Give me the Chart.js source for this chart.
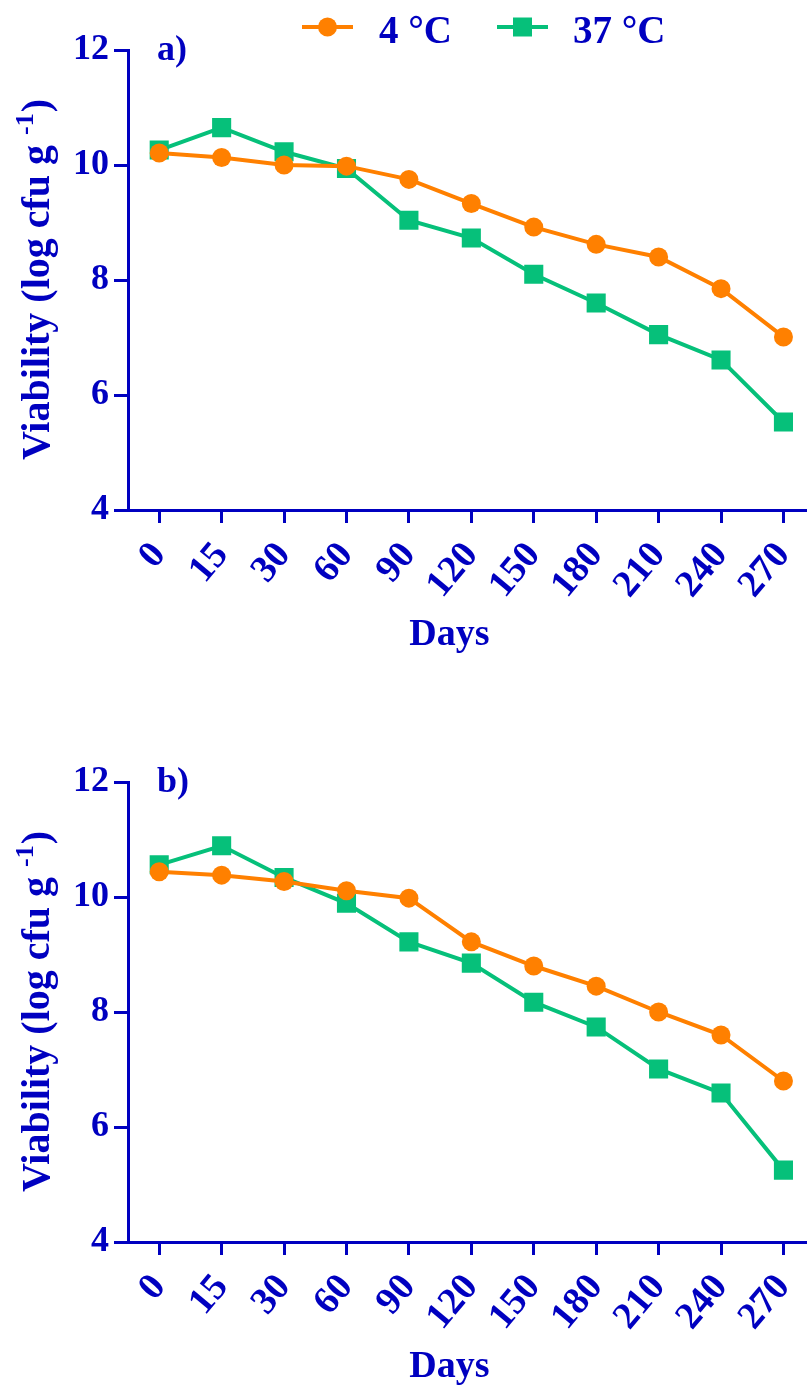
<!DOCTYPE html>
<html>
<head>
<meta charset="utf-8">
<script src="https://cdn.jsdelivr.net/npm/chart.js@4.4.0/dist/chart.umd.min.js"></script>
<style>
html, body { margin: 0; padding: 0; background: #fff; overflow: hidden; }
#wrap { position: relative; width: 807px; height: 1387px; overflow: hidden; background: #fff; }
#wrap canvas { position: absolute; left: 0; }
#chartA { top: 0; }
#chartB { top: 732px; }
</style>
</head>
<body>
<div id="wrap">
  <canvas id="chartA" width="830" height="660"></canvas>
  <canvas id="chartB" width="830" height="660"></canvas>
</div>
<script>
// storage days (categories)
var days = ['0', '15', '30', '60', '90', '120', '150', '180', '210', '240', '270'];

// panel a) viability, log cfu/g
var viabA4 = [10.21, 10.13, 10.00, 9.98, 9.75, 9.33, 8.92, 8.62, 8.40, 7.85, 7.01];
var viabA37 = [10.26, 10.65, 10.23, 9.94, 9.04, 8.73, 8.10, 7.60, 7.05, 6.61, 5.53];

// panel b)
var viabB4 = [10.44, 10.38, 10.27, 10.11, 9.98, 9.22, 8.80, 8.45, 8.00, 7.60, 6.80];
var viabB37 = [10.56, 10.89, 10.34, 9.89, 9.22, 8.85, 8.17, 7.74, 7.01, 6.59, 5.25];

var seriesLabels = ['4 \u00B0C', '37 \u00B0C'];
var xTitle = 'Days';
var yMin = 4, yMax = 12, yStep = 2;

var blue = '#0000c0';
var orange = '#ff8000';
var green = '#06c07a';
var serif = "'Liberation Serif', 'Times New Roman', serif";

function markerAt(ctx, style, color, x, y) {
  ctx.fillStyle = color;
  ctx.beginPath();
  if (style === 'rect') {
    ctx.rect(x - 9.5, y - 9.5, 19, 19);
  } else {
    ctx.arc(x, y, 9.5, 0, Math.PI * 2);
  }
  ctx.fill();
}

// axis titles drawn by hand (y one has a superscript)
var titlesPlugin = {
  id: 'axisTitles',
  afterDraw: function(chart) {
    var ctx = chart.ctx, area = chart.chartArea;
    var main = 'Viability (log cfu g ', sup = '-1', end = ')';
    ctx.save();
    ctx.translate(39, (area.top + area.bottom) / 2);
    ctx.rotate(-Math.PI / 2);
    ctx.fillStyle = blue;
    ctx.textBaseline = 'middle';
    ctx.textAlign = 'left';
    ctx.font = 'bold 40px ' + serif;
    var w1 = ctx.measureText(main).width;
    var w3 = ctx.measureText(end).width;
    ctx.font = 'bold 26px ' + serif;
    var w2 = ctx.measureText(sup).width;
    var x = -(w1 + w2 + w3) / 2;
    ctx.font = 'bold 40px ' + serif;
    ctx.fillText(main, x, 0);
    ctx.font = 'bold 26px ' + serif;
    ctx.fillText(sup, x + w1, -13);
    ctx.font = 'bold 40px ' + serif;
    ctx.fillText(end, x + w1 + w2 + 1, 0);
    ctx.restore();

    ctx.save();
    ctx.fillStyle = blue;
    ctx.font = 'bold 38px ' + serif;
    ctx.textAlign = 'center';
    ctx.textBaseline = 'alphabetic';
    ctx.fillText(xTitle, (area.left + area.right) / 2 - 22, area.bottom + 135);
    ctx.restore();
  }
};

// "a)" / "b)" panel letter
var panelPlugin = {
  id: 'panelLetter',
  afterDraw: function(chart, args, opts) {
    if (!opts || !opts.text) return;
    var ctx = chart.ctx, area = chart.chartArea;
    ctx.save();
    ctx.fillStyle = blue;
    ctx.font = 'bold 36px ' + serif;
    ctx.textBaseline = 'alphabetic';
    ctx.fillText(opts.text, area.left + 29, area.top + 10);
    ctx.restore();
  }
};

// legend: line + marker + label, like the original
var legendPlugin = {
  id: 'lineLegend',
  afterDraw: function(chart, args, opts) {
    if (!opts || !opts.show) return;
    var ctx = chart.ctx;
    var spots = [{ x: 302, tx: 379 }, { x: 497, tx: 573 }];
    chart.data.datasets.forEach(function(ds, i) {
      var s = spots[i], y = 27;
      ctx.save();
      ctx.strokeStyle = ds.borderColor;
      ctx.lineWidth = 4;
      ctx.beginPath();
      ctx.moveTo(s.x, y);
      ctx.lineTo(s.x + 51, y);
      ctx.stroke();
      markerAt(ctx, ds.pointStyle, ds.borderColor, s.x + 25.5, y);
      ctx.fillStyle = blue;
      ctx.font = 'bold 39px ' + serif;
      ctx.textBaseline = 'alphabetic';
      ctx.fillText(ds.label, s.tx, 43);
      ctx.restore();
    });
  }
};

function makePanel(canvas, letter, data4, data37, withLegend) {
  return new Chart(canvas, {
    type: 'line',
    data: {
      labels: days,
      datasets: [{
        label: seriesLabels[0],
        data: data4,
        borderColor: orange,
        backgroundColor: orange,
        borderWidth: 4,
        pointStyle: 'circle',
        pointRadius: 9.5,
        pointBorderWidth: 0,
        pointBackgroundColor: orange,
        tension: 0
      }, {
        label: seriesLabels[1],
        data: data37,
        borderColor: green,
        backgroundColor: green,
        borderWidth: 4,
        pointStyle: 'rect',
        pointRadius: 13.5,
        pointBorderWidth: 0,
        pointBackgroundColor: green,
        tension: 0
      }]
    },
    options: {
      responsive: false,
      animation: false,
      events: [],
      layout: { padding: { top: 50, left: 0, right: 0, bottom: 0 } },
      plugins: {
        legend: { display: false },
        tooltip: { enabled: false },
        panelLetter: { text: letter },
        lineLegend: { show: withLegend }
      },
      scales: {
        x: {
          type: 'category',
          offset: true,
          grid: { display: true, drawOnChartArea: false, offset: false, tickLength: 13, lineWidth: 3, color: blue },
          border: { display: true, color: blue, width: 3 },
          ticks: {
            color: blue,
            autoSkip: false,
            minRotation: 50,
            maxRotation: 50,
            padding: 11,
            font: { family: serif, size: 38, weight: 'bold' }
          },
          title: { display: false },
          afterFit: function(scale) { scale.height = 150; }
        },
        y: {
          min: yMin,
          max: yMax,
          grid: { display: true, drawOnChartArea: false, tickLength: 14, lineWidth: 3, color: blue },
          border: { display: true, color: blue, width: 3 },
          ticks: {
            stepSize: yStep,
            color: blue,
            padding: 5,
            font: { family: serif, size: 36, weight: 'bold' }
          },
          afterFit: function(scale) { scale.width = 128; }
        }
      }
    },
    plugins: [titlesPlugin, panelPlugin, legendPlugin]
  });
}

makePanel(document.getElementById('chartA'), 'a)', viabA4, viabA37, true);
makePanel(document.getElementById('chartB'), 'b)', viabB4, viabB37, false);
</script>
</body>
</html>
